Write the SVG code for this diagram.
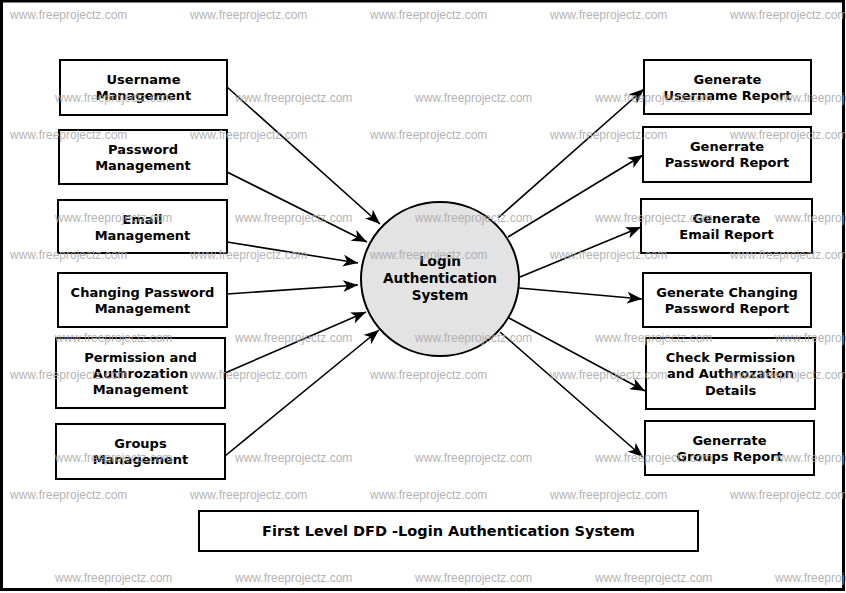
<svg xmlns="http://www.w3.org/2000/svg" width="846" height="593" viewBox="0 0 846 593">
<style>
.box{fill:#fff;stroke:#000;stroke-width:2}
.t{font-family:"DejaVu Sans",sans-serif;font-weight:bold;font-size:13px;text-anchor:middle;fill:#000}
.ct{font-family:"DejaVu Sans",sans-serif;font-weight:bold;font-size:13.6px;text-anchor:middle;fill:#000}
.tt{font-family:"DejaVu Sans",sans-serif;font-weight:bold;font-size:14.5px;text-anchor:middle;fill:#000}
.c line{stroke:#000;stroke-width:1.6;marker-end:url(#ah)}
.wm{font-family:"Liberation Sans",Arial,sans-serif;font-size:12px;fill:#a8a8a8;opacity:0.85}
</style>
<defs>
<marker id="ah" markerWidth="16" markerHeight="12" refX="15" refY="6" orient="auto" markerUnits="userSpaceOnUse">
<path d="M0,0 L15,6 L0,12 L4,6 z" fill="#000"/>
</marker>
</defs>
<rect x="0" y="0" width="846" height="593" fill="#fff"/>
<rect x="1.5" y="1" width="842" height="588.5" fill="none" stroke="#000" stroke-width="3"/>

<g class="c" id="connectors">
<line x1="227" y1="87" x2="380" y2="224"/>
<line x1="227" y1="172" x2="367" y2="242"/>
<line x1="227" y1="242" x2="358" y2="263"/>
<line x1="227" y1="294" x2="358" y2="285"/>
<line x1="225" y1="373" x2="366" y2="312"/>
<line x1="225" y1="456" x2="379" y2="330"/>
<line x1="498" y1="218" x2="644" y2="89"/>
<line x1="508" y1="237" x2="643" y2="155"/>
<line x1="520" y1="277" x2="641" y2="227"/>
<line x1="519" y1="288" x2="642" y2="299"/>
<line x1="509" y1="318" x2="645" y2="391"/>
<line x1="500" y1="332" x2="643" y2="457"/>
</g>

<g id="center">
<ellipse cx="440" cy="279" rx="79" ry="77" fill="#e3e3e3" stroke="#000" stroke-width="2"/>
<text class="ct" x="440" y="266">Login</text>
<text class="ct" x="440" y="283">Authentication</text>
<text class="ct" x="440" y="300">System</text>
</g>

<g id="n-username">
<rect class="box" x="60" y="60" width="167" height="55"/>
<text class="t" x="143.5" y="84">Username</text>
<text class="t" x="143.5" y="100">Management</text>
</g>
<g id="n-password">
<rect class="box" x="59" y="130" width="168" height="54"/>
<text class="t" x="143" y="154">Password</text>
<text class="t" x="143" y="170">Management</text>
</g>
<g id="n-email">
<rect class="box" x="58" y="200" width="169" height="53"/>
<text class="t" x="142.5" y="224">Email</text>
<text class="t" x="142.5" y="240">Management</text>
</g>
<g id="n-changing">
<rect class="box" x="58" y="273" width="169" height="54"/>
<text class="t" x="142.5" y="297">Changing Password</text>
<text class="t" x="142.5" y="313">Management</text>
</g>
<g id="n-permission">
<rect class="box" x="56" y="338" width="169" height="70"/>
<text class="t" x="140.5" y="362">Permission and</text>
<text class="t" x="140.5" y="378">Authrozation</text>
<text class="t" x="140.5" y="394">Management</text>
</g>
<g id="n-groups">
<rect class="box" x="56" y="424" width="169" height="55"/>
<text class="t" x="140.5" y="448">Groups</text>
<text class="t" x="140.5" y="464">Management</text>
</g>

<g id="r-username">
<rect class="box" x="644" y="60" width="167" height="54"/>
<text class="t" x="727.5" y="84">Generate</text>
<text class="t" x="727.5" y="100">Username Report</text>
</g>
<g id="r-password">
<rect class="box" x="643" y="127" width="168" height="55"/>
<text class="t" x="727" y="151">Generrate</text>
<text class="t" x="727" y="167">Password Report</text>
</g>
<g id="r-email">
<rect class="box" x="641" y="199" width="171" height="54"/>
<text class="t" x="726.5" y="223">Generate</text>
<text class="t" x="726.5" y="239">Email Report</text>
</g>
<g id="r-changing">
<rect class="box" x="643" y="273" width="168" height="54"/>
<text class="t" x="727" y="297">Generate Changing</text>
<text class="t" x="727" y="313">Password Report</text>
</g>
<g id="r-permission">
<rect class="box" x="646" y="338" width="169" height="71"/>
<text class="t" x="730.5" y="362">Check Permission</text>
<text class="t" x="730.5" y="378">and Authrozation</text>
<text class="t" x="730.5" y="395">Details</text>
</g>
<g id="r-groups">
<rect class="box" x="645" y="421" width="169" height="54"/>
<text class="t" x="729.5" y="445">Generrate</text>
<text class="t" x="729.5" y="461">Groups Report</text>
</g>

<g id="title">
<rect class="box" x="199" y="511" width="499" height="40"/>
<text class="tt" x="448.5" y="536">First Level DFD -Login Authentication System</text>
</g>

<g id="watermark" class="wm">
<text x="10" y="19">www.freeprojectz.com</text><text x="190" y="19">www.freeprojectz.com</text><text x="370" y="19">www.freeprojectz.com</text><text x="550" y="19">www.freeprojectz.com</text><text x="730" y="19">www.freeprojectz.com</text>
<text x="55" y="102">www.freeprojectz.com</text><text x="235" y="102">www.freeprojectz.com</text><text x="415" y="102">www.freeprojectz.com</text><text x="595" y="102">www.freeprojectz.com</text><text x="775" y="102">www.freeprojectz.com</text>
<text x="10" y="139">www.freeprojectz.com</text><text x="190" y="139">www.freeprojectz.com</text><text x="370" y="139">www.freeprojectz.com</text><text x="550" y="139">www.freeprojectz.com</text><text x="730" y="139">www.freeprojectz.com</text>
<text x="55" y="222">www.freeprojectz.com</text><text x="235" y="222">www.freeprojectz.com</text><text x="415" y="222">www.freeprojectz.com</text><text x="595" y="222">www.freeprojectz.com</text><text x="775" y="222">www.freeprojectz.com</text>
<text x="10" y="259">www.freeprojectz.com</text><text x="190" y="259">www.freeprojectz.com</text><text x="370" y="259">www.freeprojectz.com</text><text x="550" y="259">www.freeprojectz.com</text><text x="730" y="259">www.freeprojectz.com</text>
<text x="55" y="342">www.freeprojectz.com</text><text x="235" y="342">www.freeprojectz.com</text><text x="415" y="342">www.freeprojectz.com</text><text x="595" y="342">www.freeprojectz.com</text><text x="775" y="342">www.freeprojectz.com</text>
<text x="10" y="379">www.freeprojectz.com</text><text x="190" y="379">www.freeprojectz.com</text><text x="370" y="379">www.freeprojectz.com</text><text x="550" y="379">www.freeprojectz.com</text><text x="730" y="379">www.freeprojectz.com</text>
<text x="55" y="462">www.freeprojectz.com</text><text x="235" y="462">www.freeprojectz.com</text><text x="415" y="462">www.freeprojectz.com</text><text x="595" y="462">www.freeprojectz.com</text><text x="775" y="462">www.freeprojectz.com</text>
<text x="10" y="499">www.freeprojectz.com</text><text x="190" y="499">www.freeprojectz.com</text><text x="370" y="499">www.freeprojectz.com</text><text x="550" y="499">www.freeprojectz.com</text><text x="730" y="499">www.freeprojectz.com</text>
<text x="55" y="582">www.freeprojectz.com</text><text x="235" y="582">www.freeprojectz.com</text><text x="415" y="582">www.freeprojectz.com</text><text x="595" y="582">www.freeprojectz.com</text><text x="775" y="582">www.freeprojectz.com</text>
</g>
</svg>
